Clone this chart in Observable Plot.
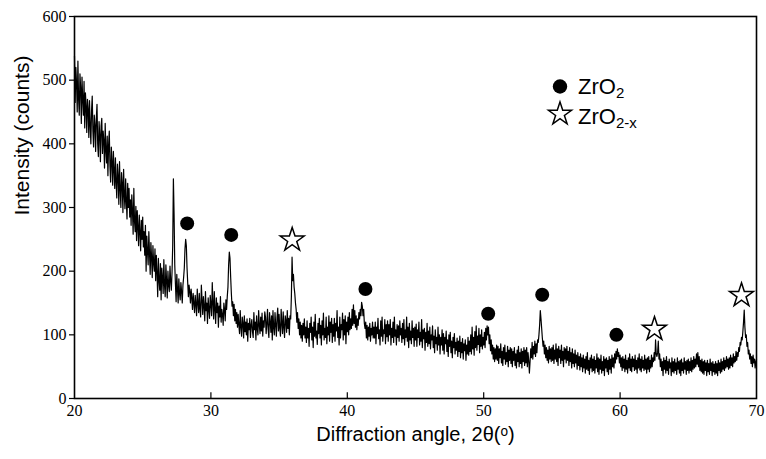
<!DOCTYPE html>
<html><head><meta charset="utf-8">
<script src="https://cdn.jsdelivr.net/npm/d3@7"></script>
<script src="https://cdn.jsdelivr.net/npm/@observablehq/plot@0.6"></script>
<style>
body{margin:0;background:#fff}
svg{display:block}
</style>
</head><body><div id="chart"></div>
<script>
// XRD pattern: counts sampled every 0.05 degrees from 20 to 70 (2θ)
const angleStart = 20, angleStep = 0.05;
const counts = [
538,465,520,495,450,530,470,445,510,488,432,505,470,445,498,425,480,460,418,470,
455,410,468,430,400,452,475,420,395,445,430,388,440,462,400,380,435,415,372,428,
440,385,420,405,362,432,390,370,412,350,398,420,365,340,395,372,335,388,360,330,
378,340,315,368,350,305,372,330,300,355,338,292,360,320,298,345,310,282,338,300,
330,285,312,272,320,295,258,330,278,262,302,248,295,270,240,288,262,232,280,250,
285,238,262,225,272,200,255,232,210,262,228,195,245,222,190,240,212,200,235,185,
225,198,160,220,185,170,212,155,205,190,165,218,178,160,210,185,158,200,178,168,
208,185,170,198,240,345,290,210,180,152,195,172,150,188,165,155,182,168,150,178,
190,205,235,250,240,205,182,160,178,168,150,172,158,140,165,150,135,162,148,130,
172,150,135,165,140,128,178,155,132,160,145,122,168,138,150,118,158,140,126,162,
148,130,182,150,125,168,140,118,158,135,150,112,145,128,160,120,140,132,115,150,
140,122,155,140,160,175,210,230,220,190,165,145,152,130,148,122,140,118,135,112,
132,115,102,138,112,98,128,118,95,130,105,120,100,125,90,118,108,126,96,115,
124,105,96,135,108,120,92,130,110,100,138,115,102,128,106,134,98,122,112,136,
128,102,118,140,108,96,135,120,104,130,92,138,112,100,135,116,98,128,142,106,
132,110,98,140,118,102,136,112,96,130,122,104,138,110,126,100,130,125,160,222,
185,195,175,165,150,140,120,135,110,125,100,120,95,115,90,118,100,125,95,112,
88,122,95,110,82,118,104,128,92,112,80,120,98,132,95,106,85,118,102,126,
95,115,84,122,100,134,92,110,96,128,86,112,100,130,90,120,104,126,88,116,
98,126,90,118,106,138,96,112,84,128,95,116,108,134,92,124,100,130,86,120,
105,128,100,135,108,125,110,140,115,147,118,138,112,130,108,125,115,135,125,140,
130,151,145,130,140,118,110,120,95,115,92,112,98,118,90,110,100,120,95,112,
95,120,86,112,102,126,94,108,84,122,98,128,90,108,102,124,86,116,97,122,
90,116,100,124,84,110,96,120,88,128,98,108,84,116,96,114,90,122,100,110,
88,118,94,124,84,108,96,128,90,112,80,118,92,106,86,122,96,110,82,112,
92,117,82,108,96,120,84,104,90,124,80,108,94,110,76,104,88,118,82,106,
86,112,78,100,92,114,80,98,72,108,86,96,76,112,84,100,70,96,84,108,
76,102,70,96,86,106,74,92,66,100,82,104,72,90,64,96,80,102,70,88,
76,95,66,90,74,98,64,88,72,94,62,86,75,92,60,84,70,96,68,90,
74,100,70,112,78,96,68,105,80,114,76,98,85,110,72,100,82,108,78,96,
84,104,80,110,92,114,100,112,86,100,75,92,70,84,62,80,58,78,62,84,
60,82,55,78,64,86,56,74,52,80,62,84,54,72,58,82,50,76,60,80,
55,78,50,74,60,80,52,70,48,76,58,82,50,72,55,78,48,74,58,80,
52,76,56,80,50,72,60,40,58,78,64,88,62,82,70,90,66,86,72,92,
88,100,115,138,125,110,95,82,90,70,84,64,80,60,76,56,82,62,78,58,
80,60,84,55,76,62,86,58,78,52,82,64,76,55,84,60,74,50,80,62,
78,56,82,60,74,52,80,58,72,48,78,55,70,50,76,56,68,46,72,52,
66,45,70,50,64,42,68,48,62,40,66,46,72,44,60,38,64,48,68,42,
62,44,66,40,60,48,70,42,64,38,62,46,68,40,58,44,66,36,62,48,
64,42,60,38,66,46,62,40,68,50,64,48,70,56,74,62,78,66,72,56,
68,50,64,44,66,48,62,42,68,46,60,40,64,48,70,44,62,42,66,50,
62,44,68,46,60,40,64,48,70,45,62,42,66,48,60,44,68,46,62,40,
64,46,66,42,60,48,68,50,64,58,72,60,92,70,66,72,90,62,70,50,
62,44,58,36,64,46,60,40,66,44,58,38,62,48,56,36,64,42,58,40,
62,44,56,38,64,46,58,40,60,36,62,44,56,40,64,46,58,38,60,44,
62,40,58,44,64,42,60,46,66,48,62,50,70,54,72,50,66,44,60,42,
62,40,58,38,60,44,56,36,60,42,55,38,62,44,56,36,58,42,54,38,
58,40,55,36,60,44,56,40,62,42,58,46,64,44,60,48,66,50,62,46,
64,48,68,52,64,50,70,56,66,58,74,60,72,66,80,74,88,84,96,92,
105,120,139,112,96,100,82,88,70,76,62,70,55,66,50,68,56,62,48,58,
62
];

const xTicks = [20, 30, 40, 50, 60, 70];
const yTicks = [0, 100, 200, 300, 400, 500, 600];

// peak markers
const zro2Angles = [28.26, 31.49, 41.33, 50.33, 54.29, 59.73];
const zro2Counts = [275, 257, 172, 133, 163, 100];
const zro2xAngles = [35.96, 62.52, 68.9];
const zro2xCounts = [249, 109, 162];

const xTitle = "Diffraction angle, 2θ(ᵒ)";
const yTitle = "Intensity (counts)";
const legendNames = ["ZrO", "ZrO"];
const legendSubs = ["2", "2-x"];

const pattern = counts.map((c, i) => ({angle: angleStart + i * angleStep, count: c}));
const circles = zro2Angles.map((a, i) => ({angle: a, count: zro2Counts[i]}));
const stars = zro2xAngles.map((a, i) => ({angle: a, count: zro2xCounts[i]}));

const sans = "'Liberation Sans', Arial, Helvetica, sans-serif";
const serif = "'Liberation Serif', 'Times New Roman', 'DejaVu Serif', serif";

const chart = Plot.plot({
  width: 766,
  height: 459,
  marginLeft: 74,
  marginRight: 10,
  marginTop: 16,
  marginBottom: 61,
  style: {background: "white", color: "black", overflow: "visible"},
  x: {domain: [20, 70]},
  y: {domain: [0, 600]},
  marks: [
    Plot.axisX({ticks: xTicks, tickSize: 0, tickPadding: 6, label: null, fontSize: 16}),
    Plot.axisY({ticks: yTicks, tickSize: 5, tickPadding: 3, label: null, fontSize: 16, strokeWidth: 1.2}),
    Plot.ruleX(xTicks.slice(1, -1), {y1: 0, y2: 9, stroke: "black", strokeWidth: 1.2}),
    Plot.line(pattern, {x: "angle", y: "count", stroke: "black", strokeWidth: 1.2}),
    Plot.frame({stroke: "black", strokeWidth: 1.6}),
    Plot.dot(circles, {x: "angle", y: "count", r: 7, fill: "black", stroke: null}),
    Plot.dot(stars, {x: "angle", y: "count", symbol: "star", r: 7.5, fill: "white", stroke: "black", strokeWidth: 1.5}),
    Plot.text([xTitle], {frameAnchor: "bottom", dy: 42, fontSize: 20, fill: "black"}),
    Plot.text([yTitle], {frameAnchor: "left", dx: -52, dy: 8, rotate: -90, fontSize: 21, fill: "black"})
  ]
});

document.getElementById("chart").append(chart);

const svg = d3.select(chart);
// tick labels in a serif face, titles in a sans face
svg.selectAll("text").each(function() {
  const isNum = /^\d+$/.test(this.textContent.trim());
  d3.select(this).style("font-family", isNum ? serif : sans);
});

// legend (top right of the plot area)
const lg = svg.append("g").attr("fill", "black").style("font-family", sans).attr("text-anchor", "start");
lg.append("circle").attr("cx", 560).attr("cy", 86.5).attr("r", 7.2);
lg.append("path")
  .attr("d", d3.symbol(d3.symbolStar, 165)())
  .attr("transform", "translate(560,114)")
  .attr("fill", "white").attr("stroke", "black").attr("stroke-width", 1.5);
[93.5, 123.5].forEach((yy, i) => {
  const t = lg.append("text").attr("x", 578).attr("y", yy).attr("font-size", 22)
    .style("font-family", sans).attr("text-anchor", "start");
  t.append("tspan").text(legendNames[i]);
  t.append("tspan").attr("font-size", 15).attr("dy", 4).text(legendSubs[i]);
});
</script>
</body></html>
